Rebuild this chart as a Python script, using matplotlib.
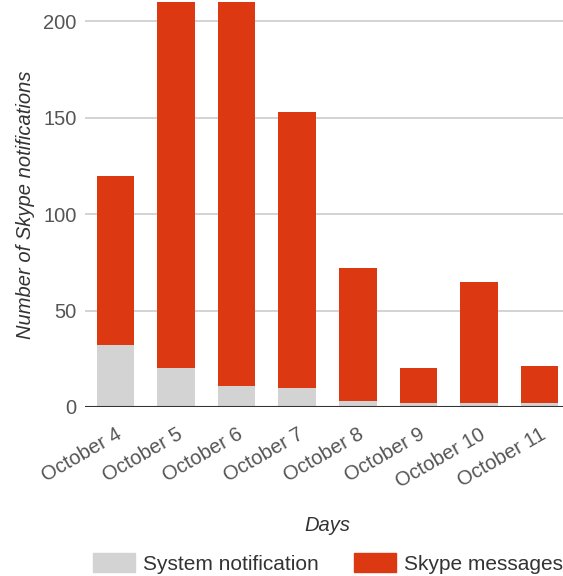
import matplotlib
matplotlib.use('Agg')
import matplotlib.pyplot as plt
import numpy as np
from matplotlib.patches import Patch

plt.rcParams['font.family'] = ['Liberation Sans', 'DejaVu Sans']

# Values
days = ['October 4', 'October 5', 'October 6', 'October 7',
        'October 8', 'October 9', 'October 10', 'October 11']
system_notif = [32, 20, 11, 10, 3, 2, 2, 2]
skype_msgs = [88, 192, 201, 143, 69, 18, 63, 19]

GRAY = '#d3d3d3'
RED = '#dc3912'
TEXT = '#555555'
FS = 14.5

fig = plt.figure(figsize=(5.63, 5.76), dpi=100)
ax = fig.add_axes([85 / 563, 169 / 576, 485 / 563, 405 / 576])

x = np.arange(len(days))
ax.bar(x, system_notif, width=0.62, color=GRAY, zorder=3)
ax.bar(x, skype_msgs, width=0.62, bottom=system_notif, color=RED, zorder=3)

ax.set_xlim(-0.5, len(days) - 0.5)
ax.set_ylim(0, 210)
ax.set_yticks([0, 50, 100, 150, 200])
ax.yaxis.grid(True, color='#cccccc', linewidth=1.2, zorder=0)
ax.axhline(0, color='#333333', linewidth=1.5, zorder=4)

for s in ax.spines.values():
    s.set_visible(False)
ax.tick_params(axis='both', length=0, labelsize=FS, labelcolor=TEXT)
ax.tick_params(axis='y', pad=6)

ax.set_xticks(x)
ax.set_xticklabels(days, rotation=30, ha='right', rotation_mode='anchor')
ax.tick_params(axis='x', pad=13)

ax.set_ylabel('Number of Skype notifications', fontsize=FS, style='italic',
              color='#333333', labelpad=6)
ax.set_xlabel('Days', fontsize=FS, style='italic', color='#333333', labelpad=18)

handles = [Patch(color=GRAY, label='System notification'),
           Patch(color=RED, label='Skype messages')]
fig.legend(handles=handles, loc='lower left', bbox_to_anchor=(0.143, -0.018),
           ncol=2, frameon=False, fontsize=15, handlelength=2.0,
           handleheight=1.0, handletextpad=0.4, columnspacing=1.7,
           labelcolor='#333333', borderaxespad=0.2)

fig.savefig('out.png', dpi=100)
